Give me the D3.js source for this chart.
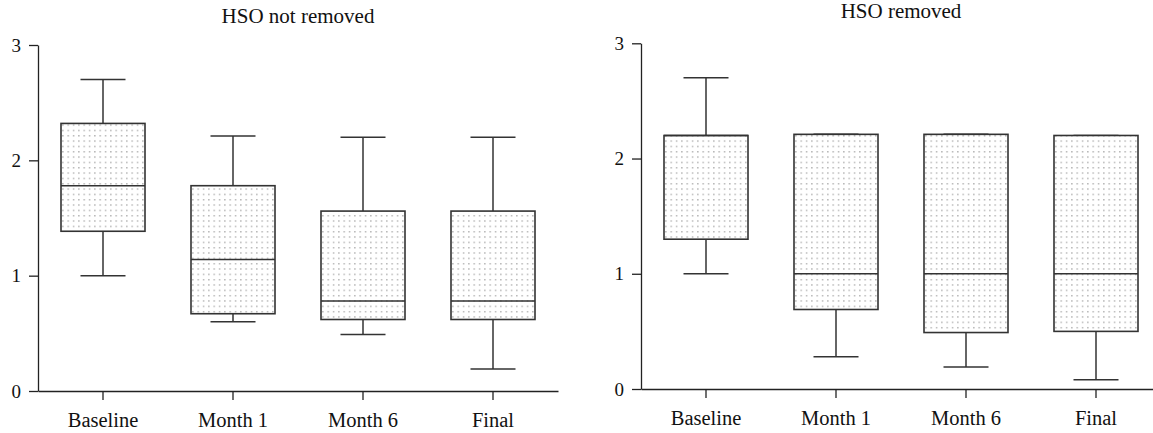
<!DOCTYPE html>
<html>
<head>
<meta charset="utf-8">
<script src="https://cdn.jsdelivr.net/npm/d3@7"></script>
<style>
  body { margin: 0; background: #fff; }
  svg text { font-family: "Liberation Serif", "DejaVu Serif", serif; fill: #111; }
</style>
</head>
<body>
<script>
// Figure size
var width = 1153;
var height = 433;

// Categories and box stats
var categories = ["Baseline", "Month 1", "Month 6", "Final"];
var yTicks = [0, 1, 2, 3];

// HSO not removed: [min, q1, median, q3, max]
var notRemovedMin    = [1.0, 0.60, 0.49, 0.19];
var notRemovedQ1     = [1.385, 0.67, 0.62, 0.62];
var notRemovedMedian = [1.78, 1.14, 0.78, 0.78];
var notRemovedQ3     = [2.32, 1.78, 1.56, 1.56];
var notRemovedMax    = [2.70, 2.21, 2.20, 2.20];

// HSO removed
var removedMin    = [1.0, 0.28, 0.19, 0.08];
var removedQ1     = [1.30, 0.69, 0.49, 0.50];
var removedMedian = [2.20, 1.0, 1.0, 1.0];
var removedQ3     = [2.20, 2.21, 2.21, 2.20];
var removedMax    = [2.70, 2.21, 2.21, 2.20];

var svg = d3.select("body").append("svg")
    .attr("width", width)
    .attr("height", height);

// dotted fill pattern
var defs = svg.append("defs");
var pat = defs.append("pattern")
    .attr("id", "dots")
    .attr("patternUnits", "userSpaceOnUse")
    .attr("width", 5.33)
    .attr("height", 5.33);
pat.append("rect").attr("width", 5.33).attr("height", 5.33).attr("fill", "#fff");
pat.append("rect").attr("x", 2).attr("y", 2).attr("width", 1.1).attr("height", 1.1).attr("fill", "#7a7a7a");

function makeStats(mins, q1s, meds, q3s, maxs) {
    return categories.map(function(c, i) {
        return { cat: c, min: mins[i], q1: q1s[i], med: meds[i], q3: q3s[i], max: maxs[i] };
    });
}

function drawPanel(title, stats, x0, y0, y3, titleY) {
    var x = d3.scaleBand()
        .domain(categories)
        .range([x0, x0 + 520])
        .padding(0);
    var y = d3.scaleLinear()
        .domain([0, 3])
        .range([y0, y3]);

    var g = svg.append("g");

    // y axis
    var yAxis = g.append("g")
        .attr("transform", "translate(" + x0 + ",0)")
        .call(d3.axisLeft(y).tickValues(yTicks).tickFormat(d3.format("d")).tickSize(9).tickPadding(8).tickSizeOuter(0));
    // x axis
    var xAxis = g.append("g")
        .attr("transform", "translate(0," + y0 + ")")
        .call(d3.axisBottom(x).tickSize(9).tickPadding(12).tickSizeOuter(0));

    [yAxis, xAxis].forEach(function(a) {
        a.attr("font-family", "Liberation Serif");
        a.selectAll("path, line").attr("stroke", "#222").attr("stroke-width", 1.3);
    });
    yAxis.selectAll("text").style("font-size", "19px").attr("fill", "#111");
    xAxis.selectAll("text").style("font-size", "20.5px").attr("fill", "#111");

    var boxW = 84, capW = 45;
    var boxes = g.selectAll(".box")
        .data(stats)
        .join("g")
        .attr("class", "box")
        .attr("transform", function(d) { return "translate(" + (x(d.cat) + x.bandwidth() / 2) + ",0)"; });

    // whiskers
    boxes.append("line")
        .attr("y1", function(d) { return y(d.max); })
        .attr("y2", function(d) { return y(d.min); })
        .attr("stroke", "#333").attr("stroke-width", 1.5);
    boxes.append("line")
        .attr("x1", -capW / 2).attr("x2", capW / 2)
        .attr("y1", function(d) { return y(d.max); })
        .attr("y2", function(d) { return y(d.max); })
        .attr("stroke", "#333").attr("stroke-width", 1.5);
    boxes.append("line")
        .attr("x1", -capW / 2).attr("x2", capW / 2)
        .attr("y1", function(d) { return y(d.min); })
        .attr("y2", function(d) { return y(d.min); })
        .attr("stroke", "#333").attr("stroke-width", 1.5);

    // box
    boxes.append("rect")
        .attr("x", -boxW / 2)
        .attr("width", boxW)
        .attr("y", function(d) { return y(d.q3); })
        .attr("height", function(d) { return y(d.q1) - y(d.q3); })
        .attr("fill", "url(#dots)")
        .attr("stroke", "#333").attr("stroke-width", 1.6);
    // median
    boxes.append("line")
        .attr("x1", -boxW / 2).attr("x2", boxW / 2)
        .attr("y1", function(d) { return y(d.med); })
        .attr("y2", function(d) { return y(d.med); })
        .attr("stroke", "#333").attr("stroke-width", 1.6);

    g.append("text")
        .attr("x", x0 + 260)
        .attr("y", titleY)
        .attr("text-anchor", "middle")
        .style("font-family", "Liberation Serif")
        .style("font-size", "21px")
        .text(title);
}

drawPanel("HSO not removed",
    makeStats(notRemovedMin, notRemovedQ1, notRemovedMedian, notRemovedQ3, notRemovedMax),
    38, 391, 45, 23);
drawPanel("HSO removed",
    makeStats(removedMin, removedQ1, removedMedian, removedQ3, removedMax),
    641, 389, 43.3, 18);
</script>
</body>
</html>
